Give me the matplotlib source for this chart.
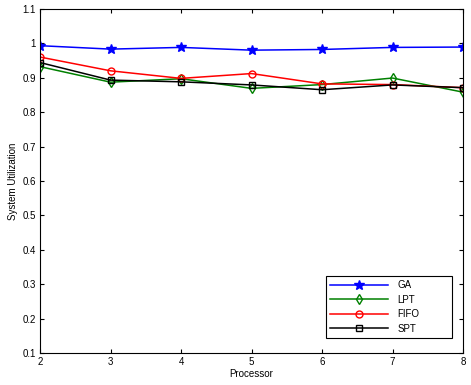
import numpy as np
import matplotlib
matplotlib.use("Agg")
import matplotlib.pyplot as plt

processors = [2, 3, 4, 5, 6, 7, 8]
ga = [0.993, 0.983, 0.988, 0.980, 0.982, 0.988, 0.989]
lpt = [0.932, 0.887, 0.897, 0.869, 0.880, 0.899, 0.858]
fifo = [0.960, 0.920, 0.898, 0.912, 0.882, 0.880, 0.871]
spt = [0.944, 0.893, 0.888, 0.879, 0.865, 0.879, 0.871]

plt.rcParams["font.family"] = ["Liberation Sans", "DejaVu Sans"]
plt.rcParams["font.size"] = 7

fig = plt.figure(figsize=(4.71, 3.85), dpi=100)
ax = fig.add_axes([0.085, 0.083, 0.898, 0.894])

ax.plot(processors, ga, color="#0000ff", marker="*", markersize=7, linewidth=1.1, label="GA")
ax.plot(processors, lpt, color="#008000", marker="d", markersize=5, markerfacecolor="none", linewidth=1.1, label="LPT")
ax.plot(processors, fifo, color="#ff0000", marker="o", markersize=5, markerfacecolor="none", linewidth=1.1, label="FIFO")
ax.plot(processors, spt, color="#000000", marker="s", markersize=5, markerfacecolor="none", linewidth=1.1, label="SPT")

ax.set_xlim(2, 8)
ax.set_ylim(0.1, 1.1)
ax.set_yticks(np.arange(0.1, 1.11, 0.1))
ax.set_yticklabels(["0.1", "0.2", "0.3", "0.4", "0.5", "0.6", "0.7", "0.8", "0.9", "1", "1.1"])
ax.tick_params(direction="in", top=True, right=True, length=3, pad=3)
ax.set_xlabel("Processor", labelpad=1)
ax.set_ylabel("System Utilization", labelpad=3)

leg = ax.legend(loc="lower left", bbox_to_anchor=(0.676, 0.044, 0.298, 0.17), mode="expand",
                borderaxespad=0, fancybox=False, framealpha=1, edgecolor="black",
                handlelength=5.9, borderpad=0.45, labelspacing=0.45, handletextpad=1.0)
leg.get_frame().set_linewidth(0.8)

fig.savefig("out.png", dpi=100)
